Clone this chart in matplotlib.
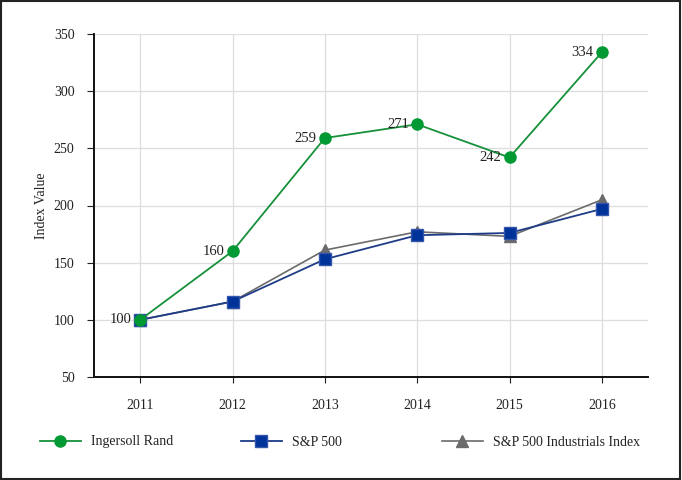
import matplotlib.pyplot as plt
from matplotlib.patches import Rectangle

# data
years = ['2011', '2012', '2013', '2014', '2015', '2016']
ingersoll = [100, 160, 259, 271, 242, 334]
sp500 = [100, 116, 153, 174, 176, 197]
industrials = [100, 116, 161, 177, 173, 205]

plt.rcParams['font.family'] = ['Liberation Serif', 'DejaVu Serif']

fig = plt.figure(figsize=(6.82, 4.8), dpi=100)
ax = fig.add_axes([94/682, 1 - 377/480, (648-94)/682, (377-34)/480])

x = list(range(len(years)))
ax.plot(x, industrials, color='#6b6b6b', lw=1.2, marker='^', ms=8, mfc='#6b6b6b', mec='#6b6b6b', zorder=3)
ax.plot(x, sp500, color='#1f3c88', lw=1.3, marker='s', ms=9, mfc='#003399', mec='#3355aa', zorder=4)
ax.plot(x, ingersoll, color='#16913a', lw=1.3, marker='o', ms=8, mfc='#009933', mec='#009933', zorder=5)

for xi, v in zip(x, ingersoll):
    ax.annotate(str(v), (xi, v), xytext=(-6, 0), textcoords='offset points',
                ha='right', va='center', fontsize=10.5, color='#222222', zorder=6)

ax.set_xlim(-0.5, 5.5)
ax.set_ylim(50, 350)
ax.set_yticks(range(50, 351, 50))
ax.set_xticks(x)
ax.set_xticklabels(years)
ax.tick_params(labelsize=10, colors='#222222')
ax.tick_params(axis='y', length=5, pad=9)
ax.tick_params(axis='x', length=4, pad=12)
ax.set_ylabel('Index Value', fontsize=10, color='#222222', labelpad=4)
ax.grid(True, color='#dddddd', lw=0.9)
ax.set_axisbelow(True)
for s in ['top', 'right']:
    ax.spines[s].set_visible(False)
for s in ['left', 'bottom']:
    ax.spines[s].set_linewidth(1.4)
    ax.spines[s].set_color('#111111')

# legend, three separate entries spaced evenly along the bottom
handles = ax.get_lines()
labels = ['S&P 500 Industrials Index', 'S&P 500', 'Ingersoll Rand']
xpos = [442, 241, 40]
for h, lab, xp in zip(handles, labels, xpos):
    lg = fig.legend([h], [lab], loc='center left', bbox_to_anchor=(xp/682 - 0.018, 1 - 442/480),
                    frameon=False, fontsize=10, handlelength=2.9, handletextpad=0.75,
                    labelcolor='#222222')

fig.patches.append(Rectangle((0.002, 0.003), 0.995, 0.994, transform=fig.transFigure,
                             fill=False, edgecolor='#222222', lw=1.5))

fig.savefig('out.png', dpi=100)
